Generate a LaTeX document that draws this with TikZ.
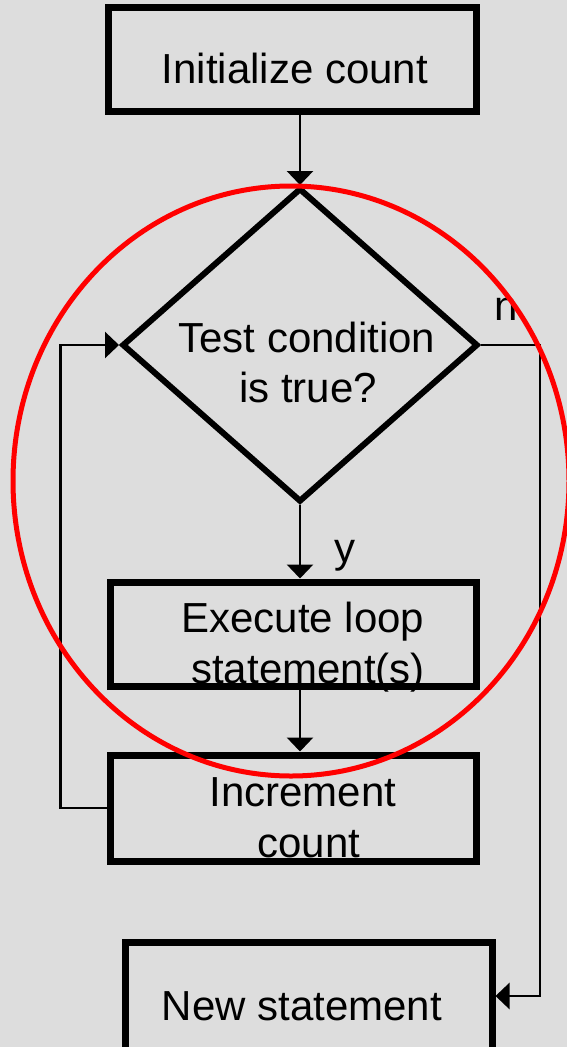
\documentclass[tikz,border=0pt]{standalone}
\usepackage{fontspec}
\setmainfont{Liberation Sans}
\usetikzlibrary{arrows, arrows.meta}
\usetikzlibrary{calc}
\usetikzlibrary{shapes.geometric}
\definecolor{slidegray}{RGB}{221,221,221}

\begin{document}
\begin{tikzpicture}[x=1pt, y=-1pt,
    box/.style={rectangle, draw, line width=7pt, inner sep=0pt, minimum width=366pt, minimum height=104pt},
    txt/.style={anchor=base, inner sep=0pt, font=\fontsize{42}{50}\selectfont},
    flow/.style={line width=2.7pt, -{Triangle[width=26pt, length=14pt]}}]
      \path[use as bounding box, clip] (0,0) rectangle (567,1047);
      \fill[slidegray] (0,0) rectangle (567,1047);

      % boxes
      \node[box, minimum width=368pt] (init) at (292,59) {};
      \node[diamond, draw, line width=6pt, inner sep=0pt, minimum width=356pt, minimum height=314pt] (cond) at (300,345) {};
      \node[box] (exec) at (293,634) {};
      \node[box, minimum height=106pt] (inc) at (293,808) {};
      \node[box, minimum width=367pt, minimum height=108pt] (new) at (308.5,996) {};

      % texts
      \node[txt] (t1) at (295,83) {Initialize count};
      \node[txt] (t2) at (307,352) {Test condition};
      \node[txt] (t3) at (308,402) {is true?};
      \node[txt] (t4) at (303,632) {Execute loop};
      \node[txt] (t5) at (308,683) {statement(s)};
      \node[txt] (t6) at (303,806) {Increment};
      \node[txt] (t7) at (309,857) {count};
      \node[txt] (t8) at (302,1020) {New statement};
      \node[txt] (no) at (506,320) {n};
      \node[txt] (yes) at (345,562) {y};

      % connectors
      \draw[flow] (cond.north |- init.south) -- (cond.north);
      \draw[flow] (cond.south) -- (cond.south |- exec.north);
      \draw[flow] (cond.south |- exec.south) -- (cond.south |- inc.north);
      \draw[flow] (inc.west) -- ++(-46,0) |- (cond.west);
      \draw[flow] (cond.east) -- ++(59,0) |- (new.east);

      \draw[red, line width=5pt] (291,481) ellipse [x radius=278, y radius=295];
    \end{tikzpicture}
\end{document}
